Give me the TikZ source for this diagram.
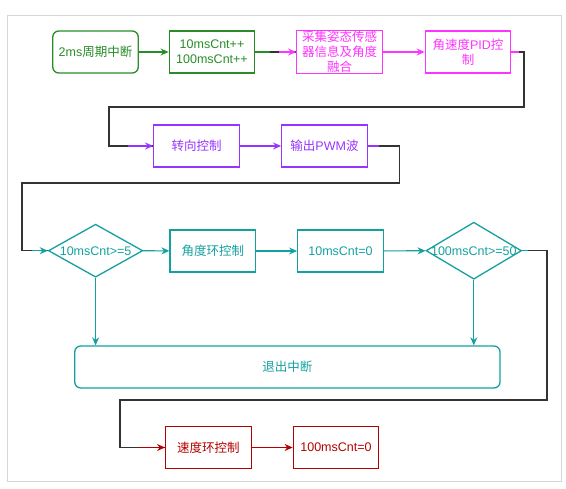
\documentclass[tikz,border=0pt]{standalone}
\usepackage{fontspec}
\setmainfont{Liberation Sans}
\newfontfamily\cjk{Noto Sans CJK SC}
\newcommand{\zhtxt}[1]{{\cjk #1}}
\usetikzlibrary{arrows.meta,shapes.geometric}

\definecolor{cgreen}{RGB}{40,140,40}
\definecolor{cmag}{RGB}{255,51,255}
\definecolor{cpurp}{RGB}{153,51,255}
\definecolor{cteal}{RGB}{20,160,160}
\definecolor{cred}{RGB}{180,0,0}
\definecolor{cdark}{RGB}{51,51,51}
\definecolor{cframe}{RGB}{214,214,214}

\begin{document}
\begin{tikzpicture}[x=1pt,y=-1pt,
  every node/.style={font=\fontsize{12.5}{15}\selectfont,align=center},
  box/.style={rectangle,draw,line width=1.3pt,minimum width=85.5pt,minimum height=42pt,inner sep=1pt},
  roundbox/.style={box,rounded corners=6pt},
  decision/.style={diamond,draw,line width=1.3pt,inner sep=0pt},
  arr/.style={line width=1.2pt,-{Stealth[length=8pt,width=7pt]}},
  wire/.style={line width=1.2pt}
]
\useasboundingbox (0,0) rectangle (566,489);
\draw[cframe,line width=1pt] (7,16) rectangle (561,482);

% first row
\node[roundbox,cgreen] (start) at (95.5,52) {2ms\zhtxt{周期中断}};
\node[box,cgreen] (cnt) at (212,52) {10msCnt++\\100msCnt++};
\node[box,cmag] (fuse) at (339.5,52) {\zhtxt{采集姿态传感}\\\zhtxt{器信息及角度}\\\zhtxt{融合}};
\node[box,cmag] (gyro) at (468,52) {\zhtxt{角速度}PID\zhtxt{控}\\\zhtxt{制}};

% second row
\node[box,cpurp] (turn) at (196.5,146) {\zhtxt{转向控制}};
\node[box,cpurp] (pwm) at (324.5,146) {\zhtxt{输出}PWM\zhtxt{波}};

% third row
\node[decision,cteal,minimum width=94.4pt,minimum height=53pt,
  label={[cteal]center:10msCnt>=5}] (chk10) at (95.6,250.7) {};
\node[box,cteal] (angle) at (212.8,251) {\zhtxt{角度环控制}};
\node[box,cteal] (clr10) at (340.5,251) {10msCnt=0};
\node[decision,cteal,minimum width=95.5pt,minimum height=57pt,
  label={[cteal]center:100msCnt>=50}] (chk100) at (473.8,250.7) {};
\node[roundbox,cteal,minimum width=425.3pt] (exit) at (287.4,367) {\zhtxt{退出中断}};

% fourth row
\node[box,cred] (speed) at (208.4,447.5) {\zhtxt{速度环控制}};
\node[box,cred] (clr100) at (336,447.5) {100msCnt=0};

% connectors
\draw[arr,cgreen] (start) -- (cnt);
\draw[wire,cdark] (cnt.east) -- (fuse.west);
\draw[wire,cgreen] (cnt.east) -- ++(15,0);
\draw[arr,cmag] (fuse.west) ++(-17,0) -- (fuse.west);
\draw[arr,cmag] (fuse) -- (gyro);

\draw[wire,cdark] (gyro.east) -| (524,107) -| (109,146) -- (turn.west);
\draw[wire,cmag] (gyro.east) -- ++(8,0);
\draw[arr,cpurp] (turn.west) ++(-25,0) -- (turn.west);
\draw[arr,cpurp] (turn) -- (pwm);

\draw[wire,cdark] (pwm.east) -| (399.5,183) -| (22,250.7) -- (chk10.west);
\draw[wire,cpurp] (pwm.east) -- ++(11,0);
\draw[arr,cteal] (chk10.west) ++(-16,0) -- (chk10.west);
\draw[arr,cteal] (chk10) -- (angle);
\draw[arr,cteal] (angle) -- (clr10);
\draw[arr,cteal] (clr10) -- (chk100);
\draw[arr,cteal] (chk10.south) -- (chk10.south |- exit.north);
\draw[arr,cteal] (chk100.south) -- (chk100.south |- exit.north);

\draw[wire,cdark] (chk100.east) -| (547,400) -| (120,447.5) -- (speed.west);
\draw[wire,cteal] (chk100.east) -- ++(6,0);
\draw[arr,cred] (speed.west) ++(-26,0) -- (speed.west);
\draw[arr,cred] (speed) -- (clr100);

\end{tikzpicture}
\end{document}
